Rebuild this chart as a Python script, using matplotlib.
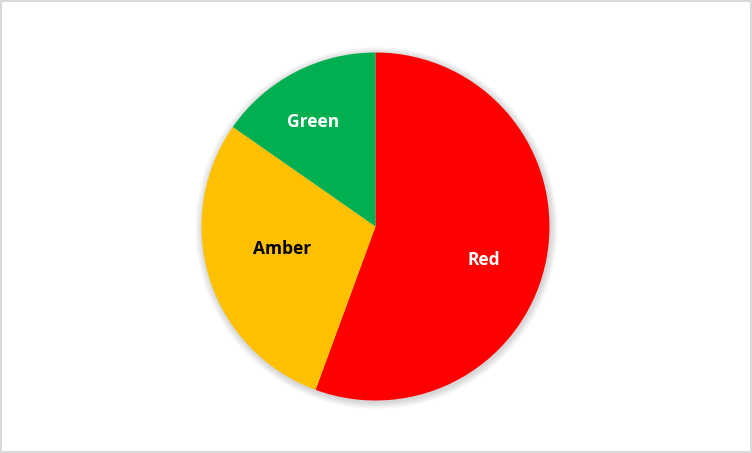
import numpy as np
import matplotlib
matplotlib.use('Agg')
import matplotlib.pyplot as plt
from matplotlib.patches import Circle, Rectangle

# ── DATA ──────────────────────────────────────────────────────────────
labels = ["Red", "Amber", "Green"]
shares = [55.6, 29.1, 15.3]
colors = ["#FF0000", "#FFC000", "#00B050"]
text_colors = ["white", "black", "white"]

# label placement (radial fraction, angle tweak in degrees)
label_pos = [(0.65, -7), (0.55, -4), (0.70, 3)]

W, H = 752, 453
CX, CY, R = 375.5, 226.5, 174

fig = plt.figure(figsize=(W / 100, H / 100), dpi=100)
ax = fig.add_axes([0, 0, 1, 1])
ax.set_xlim(0, W)
ax.set_ylim(0, H)
ax.set_aspect('equal')
ax.axis('off')

# border of chart area
ax.add_patch(Rectangle((1, 1), W - 2, H - 2, fill=False,
                       edgecolor='#D9D9D9', linewidth=1.5))

# soft shadow behind the pie
for k in range(8, 0, -1):
    ax.add_patch(Circle((CX + 1, CY - 1.5), R + k * 0.9,
                        facecolor='black', edgecolor='none',
                        alpha=0.018, zorder=1))

wedges, _ = ax.pie(shares, colors=colors, startangle=90,
                   counterclock=False, center=(CX, CY), radius=R,
                   wedgeprops=dict(linewidth=0, zorder=2), frame=True)
ax.set_xlim(0, W)
ax.set_ylim(0, H)
ax.axis('off')

for w, lab, tc, (d, da) in zip(wedges, labels, text_colors, label_pos):
    mid = np.deg2rad((w.theta1 + w.theta2) / 2 + da)
    ax.text(CX + R * d * np.cos(mid), CY + R * d * np.sin(mid), lab,
            ha='center', va='center', color=tc, fontsize=12.5,
            fontweight='bold', family='Open Sans', zorder=3)

fig.savefig('out.png', dpi=100, facecolor='white')
